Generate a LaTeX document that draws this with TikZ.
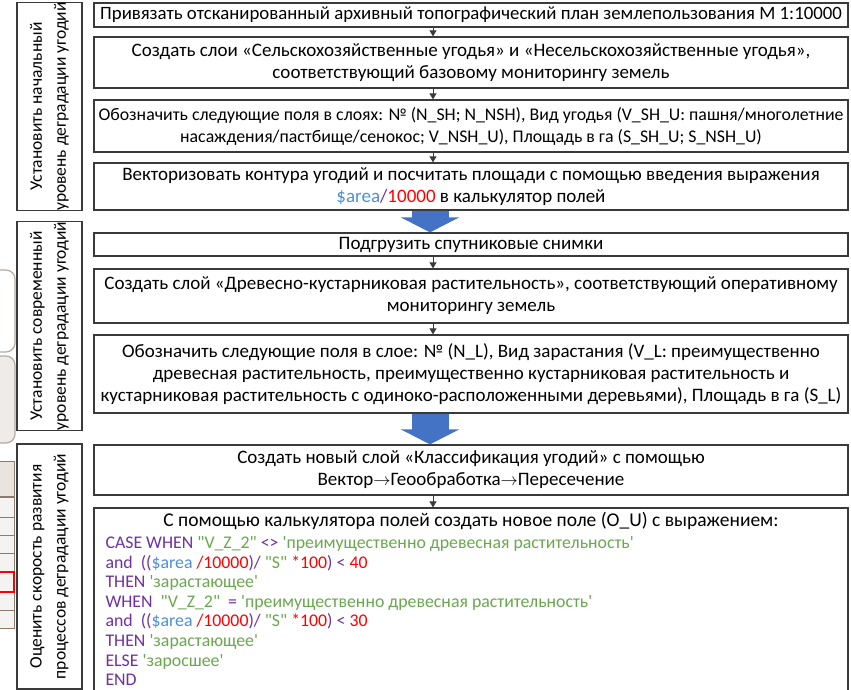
\documentclass[tikz,border=0pt]{standalone}
\usepackage{fontspec}
\setmainfont{Carlito}[Ligatures=TeXOff]
\usetikzlibrary{calc}
\usetikzlibrary{positioning}
\usetikzlibrary{arrows.meta}
\definecolor{codepurple}{HTML}{7030A0}
\definecolor{codegreen}{HTML}{6AA84F}
\definecolor{areablue}{HTML}{4F8FD8}
\definecolor{flowblue}{HTML}{4472C4}
\definecolor{edgegray}{HTML}{3A3A3A}
\definecolor{stoneline}{HTML}{B3ABA2}
\definecolor{stonefill}{HTML}{EEEBE8}
\definecolor{tanline}{HTML}{8C7A6B}
\definecolor{tanfill}{HTML}{E9E4DE}
\definecolor{rowfill}{HTML}{F5F3F1}
\newcommand{\kwd}[1]{\textcolor{codepurple}{#1}}
\newcommand{\strg}[1]{\textcolor{codegreen}{#1}}
\newcommand{\numr}[1]{\textcolor{red}{#1}}
\newcommand{\areav}[1]{\textcolor{areablue}{#1}}

\begin{document}
\begin{tikzpicture}[x=1pt, y=-1pt,
    box/.style={draw=edgegray, line width=1.3pt, fill=white, minimum width=754pt,
        inner sep=0pt, align=center, font=\fontsize{19}{22}\selectfont},
    side/.style={draw=edgegray, line width=1.3pt, fill=white, rotate=90, minimum height=65pt,
        inner sep=0pt, align=center, font=\fontsize{17.5}{24}\selectfont},
    link/.style={-{Triangle[width=7pt,length=6pt]}, edgegray, line width=0.9pt},
    bigarrow/.style={flowblue, line width=37pt, -{Triangle[width=58pt,length=15pt]}}]
    \useasboundingbox (0,0) rectangle (851,689);
    \fill[white] (0,0) rectangle (851,689);

    \draw[stoneline, fill=white, line width=1.2pt, rounded corners=9pt] (-20,270) rectangle (15,352);
    \draw[stoneline, fill=stonefill, line width=1.2pt, rounded corners=9pt] (-20,356) rectangle (15,443);
    \draw[tanline, fill=rowfill] (-5,461) rectangle (14,628);
    \fill[tanfill] (-5,461) rectangle (14,497);
    \draw[tanline, line width=1.6pt] (-5,497) -- (14,497);
    \foreach \y in {517,535,553,572,592,610} {
        \draw[tanline, line width=0.6pt] (-5,\y) -- (14,\y);
    }
    \draw[tanline] (-5,461) rectangle (14,628);
    \draw[red, line width=2.4pt] (-5,572) rectangle (14,592);

    \node[side, minimum width=207pt] (initial) at (49.5,106.5) {Установить начальный\\ уровень деградации угодий};
    \node[side, minimum width=204pt] (current) at (49.5,326) {Установить современный\\ уровень деградации угодий};
    \node[side, minimum width=245pt] (rate) at (49.5,566.5) {Оценить скорость развития\\ процессов деградации угодий};

    \node[box, minimum height=24pt, font=\fontsize{18.8}{22}\selectfont] (plan) at (471,15) {Привязать отсканированный архивный топографический план землепользования М 1:10000};
    \node[box, minimum height=51pt] (layers) at (471,62.5) {Создать слои «Сельскохозяйственные угодья» и «Несельскохозяйственные угодья»,\\ соответствующий базовому мониторингу земель};
    \node[box, minimum height=52pt, font=\fontsize{17.8}{22}\selectfont] (fields) at (471,126) {Обозначить следующие поля в слоях: № (N\_SH; N\_NSH), Вид угодья (V\_SH\_U: пашня/многолетние\\ насаждения/пастбище/сенокос; V\_NSH\_U), Площадь в га (S\_SH\_U; S\_NSH\_U)};
    \node[box, minimum height=47pt] (vector) at (471,186.5) {Векторизовать контура угодий и посчитать площади с помощью введения выражения\\ \areav{\$area}\kwd{/}\numr{10000} в калькулятор полей};

    \node[box, minimum height=23pt] (sat) at (471,244.5) {Подгрузить спутниковые снимки};
    \node[box, minimum height=54pt] (forest) at (471,296) {Создать слой «Древесно-кустарниковая растительность», соответствующий оперативному\\ мониторингу земель};
    \node[box, minimum height=78pt] (growth) at (471,374) {Обозначить следующие поля в слое: № (N\_L), Вид зарастания (V\_L: преимущественно\\ древесная растительность, преимущественно кустарниковая растительность и\\ кустарниковая растительность с одиноко-расположенными деревьями), Площадь в га (S\_L)};

    \node[box, minimum height=50pt] (classify) at (471,470) {Создать новый слой «Классификация угодий» с помощью\\ Вектор\(\rightarrow\)Геообработка\(\rightarrow\)Пересечение};
    \node[box, minimum height=184pt] (calc) at (471,600) {};
    \node[font=\fontsize{19.5}{22}\selectfont] (calchead) at ($(calc.north)+(0,14)$) {С помощью калькулятора полей создать новое поле (O\_U) с выражением:};
    \node[anchor=north west, align=left, inner sep=0pt, font=\fontsize{17.8}{19.6}\selectfont] (expr) at ($(calc.north west)+(12,29)$) {%
        \kwd{CASE WHEN} \strg{"V\_Z\_2"} \kwd{<>} \strg{'преимущественно древесная растительность'}\\
        \kwd{and~ ((}\areav{\$area} \numr{/10000}\kwd{)/} \strg{"S"} \numr{*100}\kwd{) <} \numr{40}\\
        \kwd{THEN} \strg{'зарастающее'}\\
        \kwd{WHEN} ~\strg{"V\_Z\_2"} ~\kwd{=} \strg{'преимущественно древесная растительность'}\\
        \kwd{and~ ((}\areav{\$area} \numr{/10000}\kwd{)/} \strg{"S"} \numr{*100}\kwd{) <} \numr{30}\\
        \kwd{THEN} \strg{'зарастающее'}\\
        \kwd{ELSE} \strg{'заросшее'}\\
        \kwd{END}};

    \foreach \a/\b in {plan/layers, layers/fields, fields/vector, sat/forest, forest/growth, classify/calc} {
        \draw[link] ([xshift=-38pt]\a.south) -- ([xshift=-38pt]\b.north);
    }
    \draw[bigarrow] ([xshift=-41pt]vector.south) -- ([xshift=-41pt]sat.north);
    \draw[bigarrow] ([xshift=-41pt]growth.south) -- ([xshift=-41pt]classify.north);
\end{tikzpicture}
\end{document}
